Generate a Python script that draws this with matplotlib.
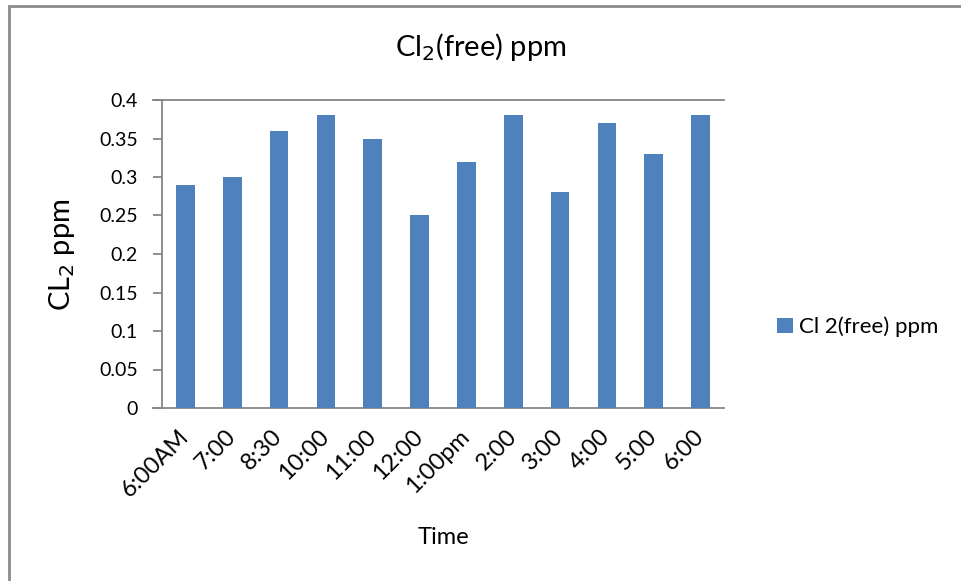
import matplotlib
matplotlib.use('Agg')
import matplotlib.pyplot as plt
from matplotlib.patches import Rectangle

# data
times = ['6:00AM', '7:00', '8:30', '10:00', '11:00', '12:00',
         '1:00pm', '2:00', '3:00', '4:00', '5:00', '6:00']
cl2_free = [0.29, 0.30, 0.36, 0.38, 0.35, 0.25,
            0.32, 0.38, 0.28, 0.37, 0.33, 0.38]
y_ticks = [0, 0.05, 0.1, 0.15, 0.2, 0.25, 0.3, 0.35, 0.4]
y_labels = ['0', '0.05', '0.1', '0.15', '0.2', '0.25', '0.3', '0.35', '0.4']

BAR = '#4F81BD'
GREY = '#868686'

plt.rcParams['font.family'] = ['Lato', 'DejaVu Sans']

W, H = 961, 581
fig = plt.figure(figsize=(W / 100, H / 100), dpi=100)
ax = fig.add_axes([162 / W, 1 - 408 / H, (724 - 162) / W, (408 - 100) / H])

x = list(range(len(times)))
ax.bar(x, cl2_free, width=0.4, color=BAR, label='Cl 2(free) ppm', zorder=3)

ax.set_xlim(-0.5, len(times) - 0.5)
ax.set_ylim(0, 0.4)
ax.set_yticks(y_ticks)
ax.set_yticklabels(y_labels, fontsize=14)
ax.set_xticks(x)
ax.set_xticklabels(times, fontsize=17, rotation=45, ha='right',
                   va='center', rotation_mode='anchor')

for side in ('left', 'bottom', 'top'):
    ax.spines[side].set_color(GREY)
    ax.spines[side].set_linewidth(1.3)
ax.spines['right'].set_visible(False)
ax.tick_params(axis='y', direction='out', length=6.5, width=1.3,
               color=GREY, pad=11)
ax.tick_params(axis='x', length=0, pad=18)
# top line reaches over the tick area like the y ticks
ax.plot([-0.5 - 9 / 46.8, -0.5], [0.4, 0.4], color=GREY, lw=1.3,
        clip_on=False)
ax.plot([-0.5 - 9 / 46.8, -0.5], [0, 0], color=GREY, lw=1.3,
        clip_on=False)

fig.text(481 / W, 1 - 47 / H, 'Cl$_2$(free) ppm', fontsize=21,
         ha='center', va='center')
fig.text(62 / W, 1 - 255 / H, 'CL$_2$ ppm', fontsize=21, rotation=90,
         ha='center', va='center')
fig.text(443 / W, 1 - 537 / H, 'Time', fontsize=17, ha='center',
         va='center')

ax.legend(loc='center left', bbox_to_anchor=(757 / W, 1 - 327 / H),
          bbox_transform=fig.transFigure, frameon=False, fontsize=16,
          handlelength=0.7, handleheight=0.7, handletextpad=0.3)

# outer chart border (only left and top show in the reference)
fig.patches.append(Rectangle((9 / W, -0.1), 1.2, 1 - 6 / H + 0.1,
                             transform=fig.transFigure, fill=False,
                             edgecolor='#8c8c8c', lw=2))

fig.savefig('out.png', dpi=100)
